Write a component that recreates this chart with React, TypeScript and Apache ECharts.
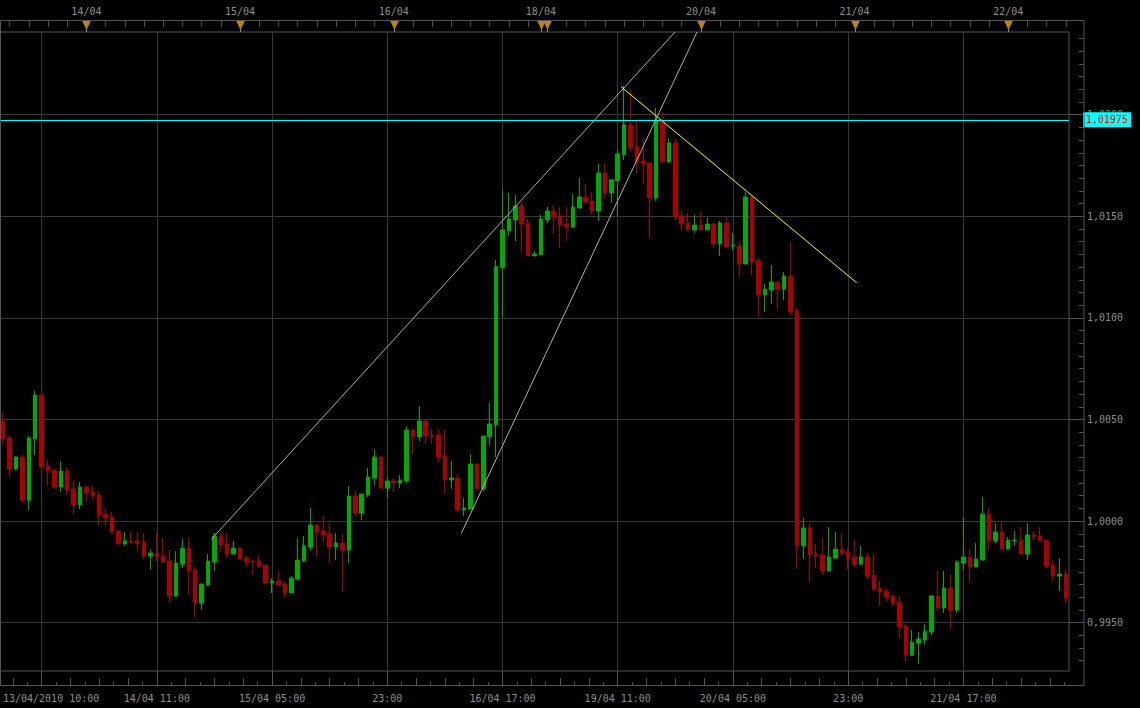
import React, { useEffect, useRef } from 'react';
import * as echarts from 'echarts';

// [open, close, low, high] hourly candles
const candles: number[][] = [
  [1.00492, 1.00404, 1.00374, 1.00537],
  [1.00409, 1.00256, 1.00218, 1.00418],
  [1.00256, 1.00315, 1.00248, 1.0032],
  [1.00315, 1.00103, 1.00094, 1.00325],
  [1.00103, 1.00409, 1.00054, 1.00418],
  [1.00404, 1.0062, 1.00325, 1.0064],
  [1.0062, 1.00266, 1.00251, 1.00629],
  [1.00271, 1.00246, 1.00177, 1.003],
  [1.00251, 1.00167, 1.00158, 1.00255],
  [1.00167, 1.00246, 1.00143, 1.00295],
  [1.00246, 1.00153, 1.00128, 1.00264],
  [1.00158, 1.00079, 1.00034, 1.00197],
  [1.00079, 1.00167, 1.00059, 1.00192],
  [1.00167, 1.00138, 1.00094, 1.00172],
  [1.00143, 1.00123, 1.00103, 1.00172],
  [1.00128, 1.0003, 0.9998, 1.00148],
  [1.00034, 1.00015, 0.9998, 1.00064],
  [1.0002, 0.99946, 0.99941, 1.00044],
  [0.99951, 0.99887, 0.99887, 0.99951],
  [0.99887, 0.99902, 0.99877, 0.99946],
  [0.999, 0.99895, 0.9989, 0.99946],
  [0.99902, 0.9989, 0.99852, 0.99946],
  [0.99897, 0.99828, 0.99813, 0.99941],
  [0.99828, 0.99842, 0.99759, 0.99862],
  [0.99842, 0.99823, 0.99803, 0.99941],
  [0.99828, 0.99798, 0.99798, 0.99916],
  [0.99803, 0.99631, 0.99596, 0.99857],
  [0.99631, 0.99793, 0.99626, 0.99852],
  [0.99788, 0.99867, 0.99769, 0.99911],
  [0.99867, 0.99754, 0.99636, 0.99921],
  [0.99759, 0.99596, 0.99527, 0.99774],
  [0.99596, 0.9969, 0.99562, 0.9969],
  [0.99685, 0.99803, 0.9968, 0.99838],
  [0.99798, 0.99926, 0.99754, 0.99941],
  [0.99926, 0.99882, 0.99847, 0.99946],
  [0.99887, 0.99838, 0.99818, 0.99941],
  [0.99838, 0.99867, 0.99838, 0.99902],
  [0.99867, 0.99813, 0.99813, 0.99872],
  [0.99818, 0.99798, 0.99774, 0.99828],
  [0.99803, 0.99798, 0.99734, 0.99808],
  [0.99803, 0.99778, 0.99769, 0.99833],
  [0.99783, 0.99695, 0.9969, 0.99783],
  [0.99695, 0.99705, 0.99646, 0.99719],
  [0.99705, 0.99685, 0.9968, 0.99754],
  [0.9969, 0.99646, 0.99621, 0.997],
  [0.99646, 0.99719, 0.99646, 0.99729],
  [0.99714, 0.99808, 0.99714, 0.99916],
  [0.99803, 0.99877, 0.99798, 0.99926],
  [0.99872, 0.9998, 0.99852, 1.00064],
  [0.9998, 0.99946, 0.99823, 0.99985],
  [0.99951, 0.99931, 0.99897, 1.00025],
  [0.99936, 0.99872, 0.99793, 0.9999],
  [0.99872, 0.99892, 0.99808, 0.99941],
  [0.99892, 0.99857, 0.9965, 0.99936],
  [0.99857, 1.00123, 0.99793, 1.00172],
  [1.00123, 1.00039, 1.0002, 1.00143],
  [1.00039, 1.00133, 1.00005, 1.00133],
  [1.00128, 1.00217, 1.00118, 1.00261],
  [1.00212, 1.00315, 1.00177, 1.0035],
  [1.00315, 1.00162, 1.00162, 1.0032],
  [1.00162, 1.00197, 1.00113, 1.00217],
  [1.00197, 1.00187, 1.00143, 1.00212],
  [1.00187, 1.00202, 1.00162, 1.00226],
  [1.00197, 1.00448, 1.00187, 1.00468],
  [1.00448, 1.00414, 1.0033, 1.00453],
  [1.00414, 1.00492, 1.00394, 1.00566],
  [1.00492, 1.00418, 1.00379, 1.00497],
  [1.00423, 1.00418, 1.00379, 1.00453],
  [1.00423, 1.00315, 1.0029, 1.00453],
  [1.0032, 1.00202, 1.00138, 1.00453],
  [1.00202, 1.00212, 1.00158, 1.00295],
  [1.00212, 1.00054, 1.00044, 1.00231],
  [1.00054, 1.00064, 1.00025, 1.00113],
  [1.00059, 1.00281, 1.00054, 1.0033],
  [1.00281, 1.00158, 1.00158, 1.00286],
  [1.00158, 1.00418, 1.00148, 1.00418],
  [1.00414, 1.00478, 1.00374, 1.00581],
  [1.00473, 1.01252, 1.00315, 1.01285],
  [1.01247, 1.01433, 1.01001, 1.01625],
  [1.01428, 1.01487, 1.01403, 1.01615],
  [1.01482, 1.01551, 1.01378, 1.01605],
  [1.01551, 1.01462, 1.01324, 1.0157],
  [1.01466, 1.01305, 1.01305, 1.01487],
  [1.01305, 1.01314, 1.01305, 1.01329],
  [1.0131, 1.01487, 1.0131, 1.01506],
  [1.01482, 1.01526, 1.01467, 1.01546],
  [1.01526, 1.01497, 1.01413, 1.01556],
  [1.01502, 1.01457, 1.01344, 1.01546],
  [1.01462, 1.01447, 1.01378, 1.01546],
  [1.01447, 1.01546, 1.01442, 1.0161],
  [1.01541, 1.01595, 1.01536, 1.01689],
  [1.01595, 1.0157, 1.01561, 1.01659],
  [1.01575, 1.01526, 1.01511, 1.0162],
  [1.01526, 1.01713, 1.01477, 1.01758],
  [1.01713, 1.01615, 1.01585, 1.01762],
  [1.01615, 1.01679, 1.01566, 1.01684],
  [1.01674, 1.01807, 1.01502, 1.01822],
  [1.01802, 1.0195, 1.01777, 1.02142],
  [1.0195, 1.01836, 1.01817, 1.02122],
  [1.01841, 1.01767, 1.01713, 1.01969],
  [1.01772, 1.01758, 1.01659, 1.01886],
  [1.01762, 1.0159, 1.01388, 1.01762],
  [1.0159, 1.01974, 1.01575, 1.02033],
  [1.01974, 1.01767, 1.01767, 1.02014],
  [1.01767, 1.01861, 1.01762, 1.01886],
  [1.01861, 1.01497, 1.01482, 1.01881],
  [1.01502, 1.01462, 1.01428, 1.01526],
  [1.01467, 1.01433, 1.01428, 1.01516],
  [1.01433, 1.01457, 1.01418, 1.01506],
  [1.01457, 1.01433, 1.01433, 1.01521],
  [1.01433, 1.01462, 1.01433, 1.01492],
  [1.01462, 1.01364, 1.01344, 1.01467],
  [1.01364, 1.01467, 1.01305, 1.01477],
  [1.01467, 1.01349, 1.01349, 1.01497],
  [1.01354, 1.01359, 1.01334, 1.01418],
  [1.01354, 1.01265, 1.01201, 1.01378],
  [1.01265, 1.01595, 1.01265, 1.0162],
  [1.01595, 1.01275, 1.01211, 1.01595],
  [1.0128, 1.01113, 1.01004, 1.013],
  [1.01113, 1.01142, 1.01029, 1.01167],
  [1.01137, 1.01177, 1.01068, 1.0126],
  [1.01177, 1.01142, 1.01044, 1.01177],
  [1.01142, 1.01206, 1.01088, 1.01226],
  [1.01206, 1.01029, 1.01014, 1.01374],
  [1.01034, 0.99878, 0.99764, 1.01044],
  [0.99878, 0.99966, 0.99813, 1.00016],
  [0.99966, 0.99833, 0.99701, 0.99985],
  [0.99838, 0.99828, 0.99769, 0.99887],
  [0.99833, 0.99754, 0.99734, 0.99916],
  [0.99754, 0.99823, 0.99754, 0.9997],
  [0.99818, 0.99862, 0.99813, 0.99946],
  [0.99862, 0.99842, 0.99828, 0.99941],
  [0.99847, 0.99818, 0.99764, 0.99867],
  [0.99823, 0.99788, 0.99774, 0.99906],
  [0.99788, 0.99823, 0.99783, 0.99877],
  [0.99823, 0.99729, 0.99714, 0.99842],
  [0.99734, 0.99665, 0.99655, 0.99842],
  [0.9967, 0.9965, 0.99582, 0.99705],
  [0.99655, 0.99626, 0.99606, 0.9967],
  [0.99631, 0.99596, 0.99582, 0.99636],
  [0.99601, 0.99478, 0.99424, 0.99631],
  [0.99483, 0.9934, 0.99306, 0.99493],
  [0.9934, 0.99404, 0.99335, 0.99463],
  [0.99399, 0.99419, 0.99296, 0.99454],
  [0.99414, 0.99458, 0.9939, 0.99493],
  [0.99454, 0.99631, 0.99439, 0.99636],
  [0.99631, 0.99572, 0.99557, 0.99754],
  [0.99572, 0.9967, 0.99547, 0.99754],
  [0.9967, 0.99562, 0.99468, 0.99739],
  [0.99562, 0.99798, 0.99547, 0.99808],
  [0.99793, 0.99823, 0.99759, 1.0002],
  [0.99823, 0.99774, 0.99695, 0.99862],
  [0.99774, 0.99813, 0.99774, 0.99892],
  [0.99808, 1.00034, 0.99808, 1.00118],
  [1.00034, 0.99902, 0.99857, 1.00064],
  [0.99902, 0.99946, 0.99892, 0.9999],
  [0.99946, 0.99862, 0.99862, 1.0],
  [0.99862, 0.99906, 0.99857, 0.99921],
  [0.99903, 0.99906, 0.99877, 0.99951],
  [0.99906, 0.99838, 0.99838, 0.9997],
  [0.99838, 0.99931, 0.99808, 0.9999],
  [0.99931, 0.99921, 0.99906, 0.99951],
  [0.99926, 0.99902, 0.99902, 0.9997],
  [0.99906, 0.99778, 0.99769, 0.99906],
  [0.99783, 0.99729, 0.9971, 0.99808],
  [0.99729, 0.99739, 0.99655, 0.99818],
  [0.99739, 0.99621, 0.99596, 0.99759],
];

const categories = candles.map((_, i) => String(i));

const bottomLabelBars = [6, 24, 42, 60, 78, 96, 114, 132, 150];
const bottomLabels = ['13/04/2010 10:00', '14/04 11:00', '15/04 05:00', '23:00', '16/04 17:00', '19/04 11:00', '20/04 05:00', '23:00', '21/04 17:00'];
const topLabelBars = [13, 37, 61, 84, 109, 133, 157];
const topLabels = ['14/04', '15/04', '16/04', '18/04', '20/04', '21/04', '22/04'];
const markerBars = [13, 37, 61, 84, 85, 109, 133, 157];
const priceTicks = [0.995, 1.0, 1.005, 1.01, 1.015, 1.02];
const lastPrice = 1.01975;

// trend lines: [barPosition, price] pairs
const trendUpper = [[32.51, 0.9991], [104.95, 1.02407]];
const trendLower = [[71.56, 0.99939], [108.39, 1.02407]];
const trendDown = [[96.51, 1.02138], [133.33, 1.01173]];

const Y_MIN = 0.99262;
const Y_MAX = 1.02407;
const X_MIN = -0.5;
const X_MAX = candles.length - 0.5;

const MONO = 'DejaVu Sans Mono';
const TXT = '#8e8e8e';
const AXIS = '#555555';
const GRIDLINE = '#383838';
const UP = '#00aa00';
const DOWN = '#aa0000';
const MARKER = '#b8860b';

function range(start: number, stop: number, step: number) {
  const out: number[] = [];
  for (let v = start; v <= stop + 1e-9; v += step) out.push(+v.toFixed(6));
  return out;
}

export default function App() {
  const ref = useRef<HTMLDivElement>(null);
  useEffect(() => {
    if (!ref.current) return;
    const chart = echarts.init(ref.current, undefined, { renderer: 'svg' });
    const longTicks = range(1.5, X_MAX, 4.5);
    const shortTicks = range(3.75, X_MAX, 4.5);
    const topTicks = range(1, X_MAX, 3);
    const minorPrice = range(0.993125, Y_MAX, 0.000625);
    const fmtPrice = (v: number) => v.toFixed(4).replace('.', ',');
    const baseValueAxis = {
      type: 'value',
      min: X_MIN,
      max: X_MAX,
      gridIndex: 0,
      axisLine: { show: false, onZero: false },
      axisLabel: { show: false },
      splitLine: { show: false },
    };
    const option: any = {
      animation: false,
      backgroundColor: '#000000',
      grid: {
        left: 0,
        right: 71,
        top: 32,
        bottom: 37,
        show: true,
        borderColor: AXIS,
        borderWidth: 1,
        backgroundColor: '#000000',
        containLabel: false,
        outerBoundsMode: 'none',
      },
      xAxis: [
        {
          type: 'category',
          data: categories,
          boundaryGap: true,
          position: 'bottom',
          axisLine: { show: false, onZero: false },
          axisTick: { show: false },
          axisLabel: { show: false },
          splitLine: { show: false },
        },
        {
          ...baseValueAxis,
          position: 'bottom',
          offset: 14,
          axisTick: { show: true, inside: true, length: 14, customValues: bottomLabelBars, lineStyle: { color: AXIS } },
          axisLabel: {
            show: true,
            customValues: bottomLabelBars,
            margin: 8,
            color: TXT,
            fontFamily: MONO,
            fontSize: 10,
            formatter: (v: number) => {
              const i = bottomLabelBars.indexOf(Math.round(v));
              if (i < 0) return '';
              return i === 0 ? `{first|${bottomLabels[i]}}` : bottomLabels[i];
            },
            rich: { first: { padding: [0, 0, 0, 19], color: TXT, fontFamily: MONO, fontSize: 10 } },
          },
          splitLine: { show: true, lineStyle: { color: GRIDLINE, width: 1 } },
        },
        {
          ...baseValueAxis,
          position: 'bottom',
          offset: 14,
          axisTick: { show: true, inside: true, length: 7, customValues: longTicks, lineStyle: { color: AXIS } },
        },
        {
          ...baseValueAxis,
          position: 'bottom',
          offset: 14,
          axisTick: { show: true, inside: true, length: 3, customValues: shortTicks, lineStyle: { color: AXIS } },
        },
        {
          ...baseValueAxis,
          position: 'top',
          offset: 12,
          axisTick: { show: true, inside: true, length: 7, customValues: topTicks, lineStyle: { color: AXIS } },
          axisLabel: {
            show: true,
            customValues: topLabelBars,
            margin: 4,
            color: TXT,
            fontFamily: MONO,
            fontSize: 10,
            formatter: (v: number) => {
              const i = topLabelBars.indexOf(Math.round(v));
              return i < 0 ? '' : topLabels[i];
            },
          },
        },
      ],
      yAxis: [
        {
          type: 'value',
          position: 'right',
          offset: 15,
          min: Y_MIN,
          max: Y_MAX,
          axisLine: { show: false, onZero: false },
          axisTick: { show: true, inside: true, length: 15, customValues: priceTicks, lineStyle: { color: AXIS } },
          axisLabel: {
            show: true,
            customValues: priceTicks,
            margin: 3,
            color: TXT,
            fontFamily: MONO,
            fontSize: 10,
            formatter: fmtPrice,
          },
          splitLine: { show: true, lineStyle: { color: GRIDLINE, width: 1 } },
        },
        {
          type: 'value',
          position: 'right',
          offset: 15,
          min: Y_MIN,
          max: Y_MAX,
          axisLine: { show: false, onZero: false },
          axisTick: { show: true, inside: true, length: 5, customValues: minorPrice, lineStyle: { color: AXIS } },
          axisLabel: { show: false },
          splitLine: { show: false },
        },
      ],
      graphic: [
        {
          type: 'rect',
          silent: true,
          z: 100,
          shape: { x: 0.5, y: 20.5, width: 1083.5, height: 665 },
          style: { fill: 'none', stroke: AXIS, lineWidth: 1 },
        },
      ],
      series: [
        {
          type: 'candlestick',
          xAxisIndex: 0,
          yAxisIndex: 0,
          data: candles,
          barWidth: 4,
          itemStyle: {
            color: UP,
            color0: DOWN,
            borderColor: UP,
            borderColor0: DOWN,
            borderWidth: 1,
          },
          markLine: {
            silent: true,
            precision: 5,
            symbol: ['none', 'none'],
            lineStyle: { color: '#00ffff', width: 1, type: 'solid' },
            label: {
              show: true,
              position: 'end',
              distance: 14,
              formatter: () => lastPrice.toFixed(5).replace('.', ','),
              color: '#ff0000',
              backgroundColor: '#00ffff',
              padding: [3, 3, 2, 3],
              fontFamily: MONO,
              fontSize: 10,
            },
            data: [{ yAxis: lastPrice }],
          },
        },
        {
          type: 'line',
          xAxisIndex: 1,
          yAxisIndex: 0,
          data: trendUpper,
          showSymbol: false,
          symbol: 'none',
          silent: true,
          lineStyle: { color: '#b0b0b0', width: 1 },
        },
        {
          type: 'line',
          xAxisIndex: 1,
          yAxisIndex: 0,
          data: trendLower,
          showSymbol: false,
          symbol: 'none',
          silent: true,
          lineStyle: { color: '#b0b0b0', width: 1 },
        },
        {
          type: 'line',
          xAxisIndex: 1,
          yAxisIndex: 0,
          data: trendDown,
          showSymbol: false,
          symbol: 'none',
          silent: true,
          lineStyle: { color: '#ffff00', width: 1 },
        },
        {
          type: 'custom',
          xAxisIndex: 1,
          yAxisIndex: 0,
          clip: false,
          silent: true,
          data: markerBars.map((b) => [b, Y_MAX]),
          encode: { x: 0, y: 1 },
          renderItem: (params: any, api: any) => {
            const p = api.coord([api.value(0), api.value(1)]);
            const x = Math.round(p[0]) + 0.5;
            const top = p[1];
            return {
              type: 'group',
              children: [
                {
                  type: 'polygon',
                  shape: { points: [[x - 4.5, top - 11.5], [x + 4.5, top - 11.5], [x, top - 2]] },
                  style: { fill: MARKER },
                },
                {
                  type: 'line',
                  shape: { x1: x, y1: top - 12, x2: x, y2: top },
                  style: { stroke: MARKER, lineWidth: 1 },
                },
              ],
            };
          },
        },
      ],
    };
    chart.setOption(option);
    return () => chart.dispose();
  }, []);
  return (
    <div
      ref={ref}
      style={{ position: 'fixed', left: 0, top: 0, width: 1140, height: 708, background: '#000' }}
    />
  );
}
